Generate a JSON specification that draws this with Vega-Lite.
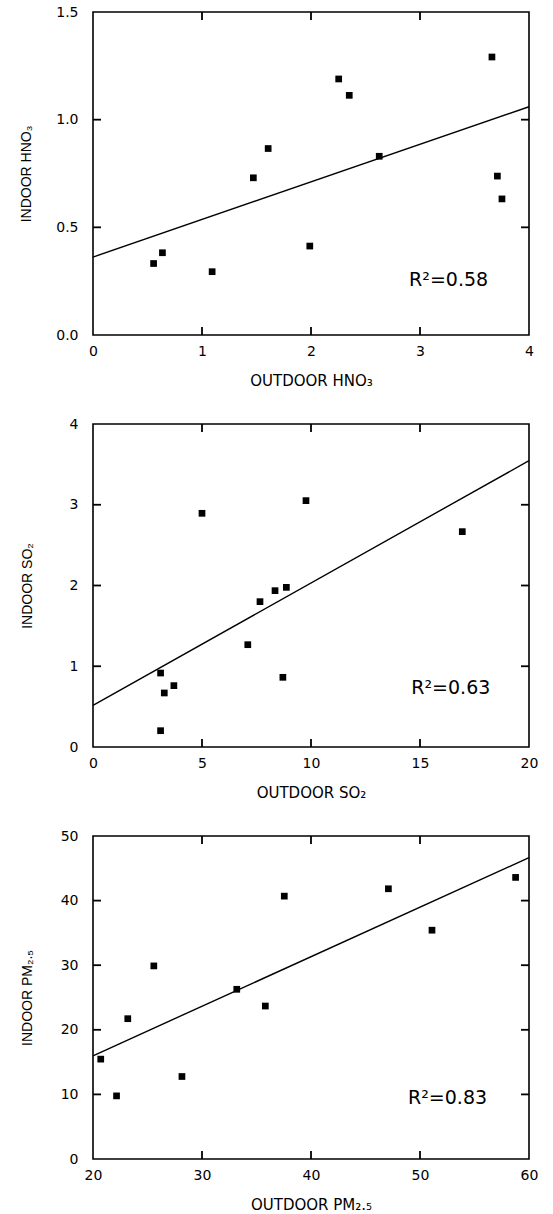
{
  "$schema": "https://vega.github.io/schema/vega-lite/v6.json",
  "background": "white",
  "padding": {"left": 18, "top": 4, "right": 5, "bottom": 5},
  "datasets": {
    "hno3": [
      {"outdoor": 0.556, "indoor": 0.332},
      {"outdoor": 0.637, "indoor": 0.382},
      {"outdoor": 1.093, "indoor": 0.294},
      {"outdoor": 1.471, "indoor": 0.730},
      {"outdoor": 1.607, "indoor": 0.866},
      {"outdoor": 1.989, "indoor": 0.413},
      {"outdoor": 2.254, "indoor": 1.189},
      {"outdoor": 2.351, "indoor": 1.113},
      {"outdoor": 2.626, "indoor": 0.830},
      {"outdoor": 3.660, "indoor": 1.291},
      {"outdoor": 3.710, "indoor": 0.738},
      {"outdoor": 3.752, "indoor": 0.632}
    ],
    "hno3_fit": [
      {"outdoor": 0, "indoor": 0.362},
      {"outdoor": 4, "indoor": 1.060}
    ],
    "hno3_xticks": [{"v": 1}, {"v": 2}, {"v": 3}],
    "hno3_yticks": [{"v": 0.5}, {"v": 1.0}],
    "so2": [
      {"outdoor": 3.10, "indoor": 0.916},
      {"outdoor": 3.10, "indoor": 0.202},
      {"outdoor": 3.27, "indoor": 0.669},
      {"outdoor": 3.71, "indoor": 0.760},
      {"outdoor": 5.00, "indoor": 2.894},
      {"outdoor": 7.10, "indoor": 1.267},
      {"outdoor": 7.66, "indoor": 1.800},
      {"outdoor": 8.35, "indoor": 1.936},
      {"outdoor": 8.87, "indoor": 1.977},
      {"outdoor": 8.71, "indoor": 0.863},
      {"outdoor": 9.77, "indoor": 3.051},
      {"outdoor": 16.94, "indoor": 2.667}
    ],
    "so2_fit": [
      {"outdoor": 0, "indoor": 0.515},
      {"outdoor": 20, "indoor": 3.546}
    ],
    "so2_xticks": [{"v": 5}, {"v": 10}, {"v": 15}],
    "so2_yticks": [{"v": 1}, {"v": 2}, {"v": 3}],
    "pm": [
      {"outdoor": 20.71, "indoor": 15.46},
      {"outdoor": 22.16, "indoor": 9.77},
      {"outdoor": 23.19, "indoor": 21.72},
      {"outdoor": 25.58, "indoor": 29.89},
      {"outdoor": 28.16, "indoor": 12.77},
      {"outdoor": 33.19, "indoor": 26.27},
      {"outdoor": 35.81, "indoor": 23.68},
      {"outdoor": 37.55, "indoor": 40.69},
      {"outdoor": 47.10, "indoor": 41.83},
      {"outdoor": 51.10, "indoor": 35.42},
      {"outdoor": 58.77, "indoor": 43.59}
    ],
    "pm_fit": [
      {"outdoor": 20, "indoor": 15.98},
      {"outdoor": 60, "indoor": 46.64}
    ],
    "pm_xticks": [{"v": 30}, {"v": 40}, {"v": 50}],
    "pm_yticks": [{"v": 10}, {"v": 20}, {"v": 30}, {"v": 40}]
  },
  "vconcat": [
    {
      "width": 436,
      "height": 323,
      "layer": [
        {
          "data": {"name": "hno3"},
          "mark": {"type": "square", "size": 45, "color": "black", "opacity": 1},
          "encoding": {
            "x": {"field": "outdoor", "type": "quantitative", "scale": {"domain": [0, 4], "nice": false, "zero": false},
                  "axis": {"orient": "bottom", "values": [0, 1, 2, 3, 4], "format": "d", "title": "OUTDOOR HNO₃"}},
            "y": {"field": "indoor", "type": "quantitative", "scale": {"domain": [0, 1.5], "nice": false, "zero": false},
                  "axis": {"orient": "left", "values": [0, 0.5, 1, 1.5], "format": ".1f", "title": "INDOOR HNO₃", "titlePadding": 22}}
          }
        },
        {
          "data": {"name": "hno3_fit"},
          "mark": {"type": "line", "color": "black", "strokeWidth": 1.4},
          "encoding": {
            "x": {"field": "outdoor", "type": "quantitative", "scale": {"domain": [0, 4], "nice": false, "zero": false}, "axis": null},
            "y": {"field": "indoor", "type": "quantitative", "scale": {"domain": [0, 1.5], "nice": false, "zero": false}, "axis": null}
          }
        },
        {
          "data": {"name": "hno3_xticks"},
          "mark": {"type": "tick", "orient": "vertical", "size": 8, "thickness": 1.8, "color": "black", "opacity": 1, "yOffset": -4},
          "encoding": {
            "x": {"field": "v", "type": "quantitative", "axis": null},
            "y": {"datum": 0, "type": "quantitative", "axis": null}
          }
        },
        {
          "data": {"name": "hno3_xticks"},
          "mark": {"type": "tick", "orient": "vertical", "size": 8, "thickness": 1.8, "color": "black", "opacity": 1, "yOffset": 4},
          "encoding": {
            "x": {"field": "v", "type": "quantitative", "axis": null},
            "y": {"datum": 1.5, "type": "quantitative", "axis": null}
          }
        },
        {
          "data": {"name": "hno3_yticks"},
          "mark": {"type": "tick", "orient": "horizontal", "size": 8, "thickness": 1.8, "color": "black", "opacity": 1, "xOffset": 4},
          "encoding": {
            "y": {"field": "v", "type": "quantitative", "axis": null},
            "x": {"datum": 0, "type": "quantitative", "axis": null}
          }
        },
        {
          "data": {"name": "hno3_yticks"},
          "mark": {"type": "tick", "orient": "horizontal", "size": 8, "thickness": 1.8, "color": "black", "opacity": 1, "xOffset": -4},
          "encoding": {
            "y": {"field": "v", "type": "quantitative", "axis": null},
            "x": {"datum": 4, "type": "quantitative", "axis": null}
          }
        },
        {
          "data": {"values": [{"label": "R²=0.58"}]},
          "mark": {"type": "text", "align": "left", "baseline": "middle", "font": "DejaVu Sans", "fontSize": 19, "color": "black"},
          "encoding": {
            "x": {"datum": 2.9, "type": "quantitative", "axis": null},
            "y": {"datum": 0.255, "type": "quantitative", "axis": null},
            "text": {"field": "label"}
          }
        }
      ],
      "resolve": {"axis": {"x": "independent", "y": "independent"}}
    },
    {
      "width": 436,
      "height": 323,
      "layer": [
        {
          "data": {"name": "so2"},
          "mark": {"type": "square", "size": 45, "color": "black", "opacity": 1},
          "encoding": {
            "x": {"field": "outdoor", "type": "quantitative", "scale": {"domain": [0, 20], "nice": false, "zero": false},
                  "axis": {"orient": "bottom", "values": [0, 5, 10, 15, 20], "format": "d", "title": "OUTDOOR SO₂"}},
            "y": {"field": "indoor", "type": "quantitative", "scale": {"domain": [0, 4], "nice": false, "zero": false},
                  "axis": {"orient": "left", "values": [0, 1, 2, 3, 4], "format": "d", "title": "INDOOR SO₂", "titlePadding": 35}}
          }
        },
        {
          "data": {"name": "so2_fit"},
          "mark": {"type": "line", "color": "black", "strokeWidth": 1.4},
          "encoding": {
            "x": {"field": "outdoor", "type": "quantitative", "scale": {"domain": [0, 20], "nice": false, "zero": false}, "axis": null},
            "y": {"field": "indoor", "type": "quantitative", "scale": {"domain": [0, 4], "nice": false, "zero": false}, "axis": null}
          }
        },
        {
          "data": {"name": "so2_xticks"},
          "mark": {"type": "tick", "orient": "vertical", "size": 8, "thickness": 1.8, "color": "black", "opacity": 1, "yOffset": -4},
          "encoding": {
            "x": {"field": "v", "type": "quantitative", "axis": null},
            "y": {"datum": 0, "type": "quantitative", "axis": null}
          }
        },
        {
          "data": {"name": "so2_xticks"},
          "mark": {"type": "tick", "orient": "vertical", "size": 8, "thickness": 1.8, "color": "black", "opacity": 1, "yOffset": 4},
          "encoding": {
            "x": {"field": "v", "type": "quantitative", "axis": null},
            "y": {"datum": 4, "type": "quantitative", "axis": null}
          }
        },
        {
          "data": {"name": "so2_yticks"},
          "mark": {"type": "tick", "orient": "horizontal", "size": 8, "thickness": 1.8, "color": "black", "opacity": 1, "xOffset": 4},
          "encoding": {
            "y": {"field": "v", "type": "quantitative", "axis": null},
            "x": {"datum": 0, "type": "quantitative", "axis": null}
          }
        },
        {
          "data": {"name": "so2_yticks"},
          "mark": {"type": "tick", "orient": "horizontal", "size": 8, "thickness": 1.8, "color": "black", "opacity": 1, "xOffset": -4},
          "encoding": {
            "y": {"field": "v", "type": "quantitative", "axis": null},
            "x": {"datum": 20, "type": "quantitative", "axis": null}
          }
        },
        {
          "data": {"values": [{"label": "R²=0.63"}]},
          "mark": {"type": "text", "align": "left", "baseline": "middle", "font": "DejaVu Sans", "fontSize": 19, "color": "black"},
          "encoding": {
            "x": {"datum": 14.6, "type": "quantitative", "axis": null},
            "y": {"datum": 0.73, "type": "quantitative", "axis": null},
            "text": {"field": "label"}
          }
        }
      ],
      "resolve": {"axis": {"x": "independent", "y": "independent"}}
    },
    {
      "width": 436,
      "height": 323,
      "layer": [
        {
          "data": {"name": "pm"},
          "mark": {"type": "square", "size": 45, "color": "black", "opacity": 1},
          "encoding": {
            "x": {"field": "outdoor", "type": "quantitative", "scale": {"domain": [20, 60], "nice": false, "zero": false},
                  "axis": {"orient": "bottom", "values": [20, 30, 40, 50, 60], "format": "d", "title": "OUTDOOR PM₂.₅"}},
            "y": {"field": "indoor", "type": "quantitative", "scale": {"domain": [0, 50], "nice": false, "zero": false},
                  "axis": {"orient": "left", "values": [0, 10, 20, 30, 40, 50], "format": "d", "title": "INDOOR PM₂.₅", "titlePadding": 26}}
          }
        },
        {
          "data": {"name": "pm_fit"},
          "mark": {"type": "line", "color": "black", "strokeWidth": 1.4},
          "encoding": {
            "x": {"field": "outdoor", "type": "quantitative", "scale": {"domain": [20, 60], "nice": false, "zero": false}, "axis": null},
            "y": {"field": "indoor", "type": "quantitative", "scale": {"domain": [0, 50], "nice": false, "zero": false}, "axis": null}
          }
        },
        {
          "data": {"name": "pm_xticks"},
          "mark": {"type": "tick", "orient": "vertical", "size": 8, "thickness": 1.8, "color": "black", "opacity": 1, "yOffset": -4},
          "encoding": {
            "x": {"field": "v", "type": "quantitative", "axis": null},
            "y": {"datum": 0, "type": "quantitative", "axis": null}
          }
        },
        {
          "data": {"name": "pm_xticks"},
          "mark": {"type": "tick", "orient": "vertical", "size": 8, "thickness": 1.8, "color": "black", "opacity": 1, "yOffset": 4},
          "encoding": {
            "x": {"field": "v", "type": "quantitative", "axis": null},
            "y": {"datum": 50, "type": "quantitative", "axis": null}
          }
        },
        {
          "data": {"name": "pm_yticks"},
          "mark": {"type": "tick", "orient": "horizontal", "size": 8, "thickness": 1.8, "color": "black", "opacity": 1, "xOffset": 4},
          "encoding": {
            "y": {"field": "v", "type": "quantitative", "axis": null},
            "x": {"datum": 20, "type": "quantitative", "axis": null}
          }
        },
        {
          "data": {"name": "pm_yticks"},
          "mark": {"type": "tick", "orient": "horizontal", "size": 8, "thickness": 1.8, "color": "black", "opacity": 1, "xOffset": -4},
          "encoding": {
            "y": {"field": "v", "type": "quantitative", "axis": null},
            "x": {"datum": 60, "type": "quantitative", "axis": null}
          }
        },
        {
          "data": {"values": [{"label": "R²=0.83"}]},
          "mark": {"type": "text", "align": "left", "baseline": "middle", "font": "DejaVu Sans", "fontSize": 19, "color": "black"},
          "encoding": {
            "x": {"datum": 48.9, "type": "quantitative", "axis": null},
            "y": {"datum": 9.4, "type": "quantitative", "axis": null},
            "text": {"field": "label"}
          }
        }
      ],
      "resolve": {"axis": {"x": "independent", "y": "independent"}}
    }
  ],
  "spacing": 89,
  "bounds": "flush",
  "config": {
    "font": "DejaVu Sans",
    "view": {"stroke": "black", "strokeWidth": 1.6},
    "axis": {
      "domain": false,
      "grid": false,
      "ticks": false,
      "labelFont": "DejaVu Sans",
      "labelFontSize": 14,
      "labelColor": "black",
      "labelFlush": false,
      "labelOverlap": false,
      "titleColor": "black",
      "titleFontWeight": "normal"
    },
    "axisX": {"labelPadding": 9, "titleFont": "DejaVu Sans", "titleFontSize": 15, "titlePadding": 15},
    "axisY": {"labelPadding": 15, "titleFont": "Liberation Sans", "titleFontSize": 14}
  }
}
